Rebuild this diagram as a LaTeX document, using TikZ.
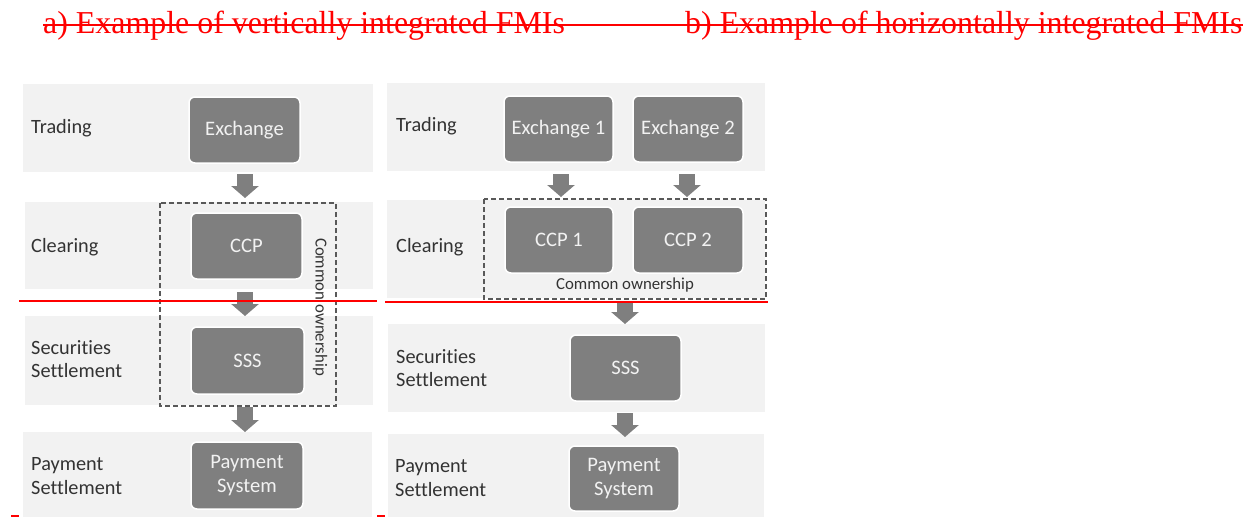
\documentclass[tikz,border=0pt]{standalone}
\usepackage{fontspec}
\setmainfont[Ligatures=NoCommon]{Carlito}
\newfontfamily\titlefont{Liberation Serif}
\usetikzlibrary{arrows.meta}
\definecolor{bandgray}{HTML}{F2F2F2}
\definecolor{boxgray}{HTML}{7F7F7F}
\definecolor{dashgray}{HTML}{595959}
\definecolor{lblcol}{HTML}{333333}
\definecolor{strikered}{HTML}{FF0000}
\tikzset{
  band/.style={fill=bandgray},
  fmibox/.style={draw=white, line width=1.5pt, fill=boxgray, rounded corners=6pt,
    inner sep=0pt, text=bandgray, align=center,
    font=\fontsize{20.6}{23.5}\selectfont},
  lbl/.style={anchor=west, inner sep=0pt, text=lblcol, align=left,
    font=\fontsize{20.3}{23.5}\selectfont},
  blockarrow/.style={boxgray, line width=16pt, -{Triangle[width=27pt,length=12pt]}},
  ownbox/.style={draw=dashgray, line width=2pt, dash pattern=on 5pt off 3pt},
  owntext/.style={inner sep=0pt, text=lblcol, font=\fontsize{16.8}{19}\selectfont},
  titletext/.style={anchor=base west, inner sep=0pt, text=strikered,
    font=\titlefont\fontsize{31.9}{36}\selectfont},
  redline/.style={strikered, line width=2pt},
}
\begin{document}
\begin{tikzpicture}[x=1pt,y=-1pt]
\useasboundingbox (0,0) rectangle (1254,517);

% titles
\node[titletext] (ta) at (43,33) {a) Example of vertically integrated FMIs};
\node[titletext] (tb) at (685,33) {b) Example of horizontally integrated FMIs};
\draw[redline] (43,25) -- (1243,25);

% ---------- left panel ----------
\path[band] (23,84) rectangle (373,172);
\path[band] (25,202) rectangle (373,289);
\path[band] (25,316) rectangle (373,405);
\path[band] (23,432) rectangle (372,517);

\node[lbl] (lt) at (31,128) {Trading};
\node[lbl] (lc) at (31,247) {Clearing};
\node[lbl] (ls) at (31,359) {Securities\\Settlement};
\node[lbl] (lp) at (31,476) {Payment\\Settlement};

\node[fmibox, minimum width=111pt, minimum height=66pt] (lex) at (244.5,130) {Exchange};
\node[fmibox, minimum width=111pt, minimum height=66pt] (lccp) at (246.5,246) {CCP};
\node[fmibox, minimum width=113pt, minimum height=67pt] (lsss) at (247.5,360.5) {SSS};
\node[fmibox, minimum width=112pt, minimum height=67pt] (lps) at (247,475.5) {Payment\\System};

\draw[ownbox] (160,203) rectangle (336,406);
\node[owntext, rotate=-90] (lown) at (320,307) {Common ownership};

\coordinate (la1s) at (245,174); \coordinate (la1e) at (245,198);
\coordinate (la2s) at (245,292); \coordinate (la2e) at (245,316);
\coordinate (la3s) at (245,407); \coordinate (la3e) at (245,432);
\draw[blockarrow] (la1s) -- (la1e);
\draw[blockarrow] (la2s) -- (la2e);
\draw[blockarrow] (la3s) -- (la3e);

% ---------- right panel ----------
\path[band] (387,83) rectangle (765,171);
\path[band] (387,200) rectangle (765,298);
\path[band] (388,324) rectangle (765,412);
\path[band] (388,434) rectangle (764,517);

\node[lbl] (rt) at (396,126) {Trading};
\node[lbl] (rc) at (396,247) {Clearing};
\node[lbl] (rs) at (396,368) {Securities\\Settlement};
\node[lbl] (rp) at (395,478) {Payment\\Settlement};

\node[fmibox, minimum width=109pt, minimum height=66pt] (rex1) at (558.5,129) {Exchange 1};
\node[fmibox, minimum width=110pt, minimum height=66pt] (rex2) at (688,129) {Exchange 2};
\node[fmibox, minimum width=108pt, minimum height=66pt] (rccp1) at (559,240) {CCP 1};
\node[fmibox, minimum width=110pt, minimum height=66pt] (rccp2) at (688,240) {CCP 2};
\node[fmibox, minimum width=111pt, minimum height=66pt] (rsss) at (625.5,368) {SSS};
\node[fmibox, minimum width=110pt, minimum height=65pt] (rps) at (624,478.5) {Payment\\System};

\draw[ownbox] (484,199) rectangle (766,299);
\node[owntext] (rown) at (625,285) {Common ownership};

\coordinate (ra1s) at (561,174); \coordinate (ra1e) at (561,197);
\coordinate (ra2s) at (687,174); \coordinate (ra2e) at (687,197);
\coordinate (ra3s) at (625,301); \coordinate (ra3e) at (625,324);
\coordinate (ra4s) at (625,413); \coordinate (ra4e) at (625,437);
\draw[blockarrow] (ra1s) -- (ra1e);
\draw[blockarrow] (ra2s) -- (ra2e);
\draw[blockarrow] (ra3s) -- (ra3e);
\draw[blockarrow] (ra4s) -- (ra4e);

% red marks
\draw[redline] (19,301) -- (377,301);
\draw[redline] (385,302) -- (768,302);
\draw[redline] (11,516) -- (19,516);
\draw[redline] (377,516) -- (385,516);
\end{tikzpicture}
\end{document}
